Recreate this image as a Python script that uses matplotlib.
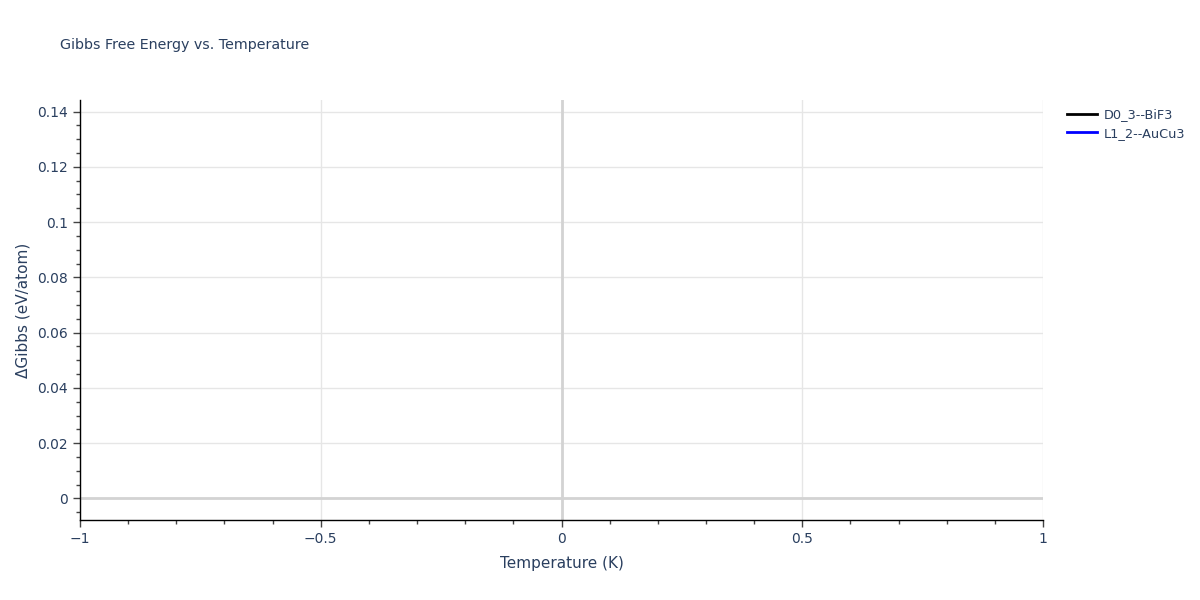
import numpy as np
import matplotlib
matplotlib.use('Agg')
import matplotlib.pyplot as plt
from matplotlib.ticker import MultipleLocator, FuncFormatter
from matplotlib.lines import Line2D

# data (lines carry a single point each, so nothing is drawn, as in the reference)
series_names = ['D0_3--BiF3', 'L1_2--AuCu3']
series_colors = ['black', 'blue']
temperature = [[0.0], [0.0]]
dgibbs = [[0.0], [0.0]]

x_lim = (-1, 1)
y_lim = (-0.0078, 0.1442)
x_ticks = [-1, -0.5, 0, 0.5, 1]
y_ticks = [0, 0.02, 0.04, 0.06, 0.08, 0.1, 0.12, 0.14]

txt = '#2a3f5f'
plt.rcParams['font.family'] = ['DejaVu Sans']

fig = plt.figure(figsize=(12, 6), dpi=100)
ax = fig.add_axes([80 / 1200, 80 / 600, 963 / 1200, 420 / 600])

for name, col, t, g in zip(series_names, series_colors, temperature, dgibbs):
    ax.plot(t, g, color=col, lw=2, label=name)

ax.set_xlim(*x_lim)
ax.set_ylim(*y_lim)
ax.set_xticks(x_ticks)
ax.set_yticks(y_ticks)
ax.xaxis.set_minor_locator(MultipleLocator(0.1))
ax.yaxis.set_minor_locator(MultipleLocator(0.005))

def fmt(v, pos):
    s = '{:g}'.format(round(v, 6))
    return s.replace('-', '\u2212')

ax.xaxis.set_major_formatter(FuncFormatter(fmt))
ax.yaxis.set_major_formatter(FuncFormatter(fmt))

ax.grid(True, which='major', color='#e6e6e6', lw=1)
ax.set_axisbelow(True)
ax.axhline(0, color='#d3d3d3', lw=2, zorder=1)
ax.axvline(0, color='#d3d3d3', lw=2, zorder=1)

for s in ['top', 'right']:
    ax.spines[s].set_visible(False)
for s in ['left', 'bottom']:
    ax.spines[s].set_color('black')
    ax.spines[s].set_linewidth(1)

ax.tick_params(which='major', direction='out', length=5, width=1, color='#444444',
               labelsize=10, labelcolor=txt)
ax.tick_params(which='minor', direction='out', length=3, width=1, color='#444444')

ax.set_xlabel('Temperature (K)', fontsize=11, color=txt, labelpad=7)
ax.set_ylabel('\u0394Gibbs (eV/atom)', fontsize=11, color=txt, labelpad=5)

fig.text(60 / 1200, 1 - 45 / 600, 'Gibbs Free Energy vs. Temperature', fontsize=10.3,
         color=txt, va='center', ha='left')

handles = [Line2D([0], [0], color=c, lw=2) for c in series_colors]
leg = fig.legend(handles, series_names, loc='upper left', bbox_to_anchor=(1062 / 1200, 1 - 103 / 600),
                 frameon=False, fontsize=9.3, handlelength=2.3, handletextpad=0.5,
                 labelspacing=0.45, borderaxespad=0)
for t in leg.get_texts():
    t.set_color(txt)

fig.savefig('out.png', dpi=100)
